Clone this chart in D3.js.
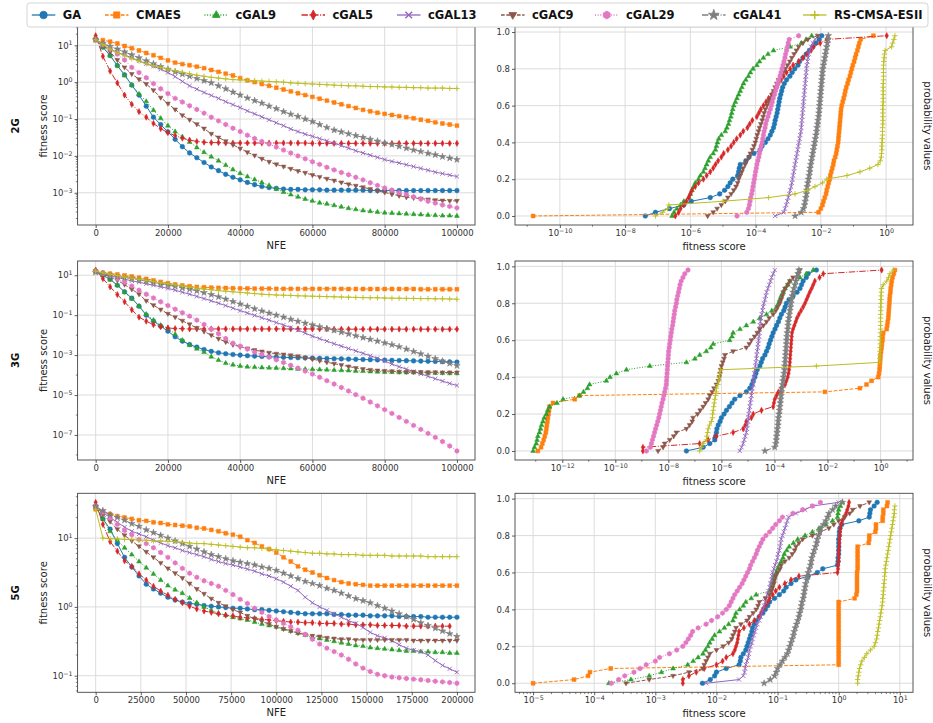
<!DOCTYPE html>
<html>
<head>
<meta charset="utf-8">
<script src="https://cdn.jsdelivr.net/npm/d3@7"></script>
<style>
  body { margin: 0; background: #fff; }
  text { font-family: "DejaVu Sans", sans-serif; }
</style>
</head>
<body>
<svg id="fig" width="933" height="723"></svg>
<script>
// ---------- data ----------
var algorithms = ["GA", "CMAES", "cGAL9", "cGAL5", "cGAL13", "cGAC9", "cGAL29", "cGAL41", "RS-CMSA-ESII"];
var problems = ["2G", "3G", "5G"];
var nfeStep = [2000, 2000, 4000];
var nfeMax = [100000, 100000, 200000];
var nfeTicks = [
  [0, 20000, 40000, 60000, 80000, 100000],
  [0, 20000, 40000, 60000, 80000, 100000],
  [0, 25000, 50000, 75000, 100000, 125000, 150000, 175000, 200000]
];
var convYTicks = [[-3, -2, -1, 0, 1], [-7, -5, -3, -1, 1], [-1, 0, 1]];   // exponents
var cdfXTicks = [[-10, -8, -6, -4, -2, 0], [-12, -10, -8, -6, -4, -2, 0], [-5, -4, -3, -2, -1, 0, 1]];
var probTicks = [0, 0.2, 0.4, 0.6, 0.8, 1.0];

// convergence curves: log10(fitness score) every nfeStep evaluations
var conv2G_GA = [1.15,0.95,0.72,0.45,0.2,-0.08,-0.35,-0.65,-0.95,-1.15,-1.35,-1.55,-1.75,-1.92,-2.05,-2.18,-2.3,-2.4,-2.5,-2.58,-2.65,-2.72,-2.78,-2.83,-2.86,-2.88,-2.9,-2.91,-2.91,-2.92,-2.92,-2.92,-2.93,-2.93,-2.93,-2.93,-2.93,-2.93,-2.94,-2.94,-2.94,-2.94,-2.94,-2.94,-2.94,-2.94,-2.94,-2.94,-2.94,-2.94,-2.94];
var conv2G_CMAES = [1.17,1.14,1.1,1.05,0.98,0.92,0.86,0.79,0.73,0.66,0.59,0.53,0.49,0.46,0.42,0.38,0.33,0.28,0.23,0.18,0.11,0.05,0.0,-0.05,-0.1,-0.15,-0.2,-0.25,-0.3,-0.35,-0.4,-0.45,-0.5,-0.55,-0.6,-0.65,-0.7,-0.75,-0.79,-0.83,-0.86,-0.89,-0.92,-0.95,-0.98,-1.02,-1.05,-1.09,-1.12,-1.15,-1.18];
var conv2G_cGAL9 = [1.2,0.95,0.72,0.45,0.18,-0.08,-0.32,-0.52,-0.76,-0.98,-1.18,-1.34,-1.48,-1.62,-1.77,-1.9,-2.02,-2.13,-2.25,-2.37,-2.47,-2.56,-2.64,-2.72,-2.8,-2.9,-2.98,-3.05,-3.11,-3.17,-3.22,-3.27,-3.3,-3.34,-3.38,-3.42,-3.45,-3.48,-3.5,-3.52,-3.54,-3.55,-3.56,-3.57,-3.58,-3.59,-3.6,-3.61,-3.62,-3.62,-3.63];
var conv2G_cGAL5 = [1.26,0.7,0.3,-0.02,-0.35,-0.6,-0.8,-0.95,-1.12,-1.26,-1.37,-1.45,-1.52,-1.57,-1.61,-1.63,-1.64,-1.64,-1.65,-1.65,-1.65,-1.65,-1.65,-1.65,-1.65,-1.65,-1.65,-1.65,-1.65,-1.65,-1.66,-1.66,-1.66,-1.66,-1.66,-1.66,-1.66,-1.66,-1.66,-1.66,-1.66,-1.66,-1.66,-1.66,-1.66,-1.66,-1.66,-1.66,-1.66,-1.66,-1.66];
var conv2G_cGAL13 = [1.15,1.0,0.9,0.81,0.74,0.66,0.58,0.5,0.43,0.35,0.26,0.15,0.02,-0.1,-0.19,-0.28,-0.36,-0.44,-0.53,-0.61,-0.69,-0.78,-0.86,-0.94,-1.02,-1.1,-1.18,-1.27,-1.34,-1.41,-1.47,-1.53,-1.59,-1.66,-1.72,-1.79,-1.86,-1.92,-1.98,-2.04,-2.1,-2.15,-2.19,-2.24,-2.29,-2.34,-2.39,-2.44,-2.48,-2.52,-2.56];
var conv2G_cGAC9 = [1.15,1.0,0.82,0.6,0.4,0.22,0.08,-0.05,-0.22,-0.42,-0.58,-0.74,-0.9,-1.02,-1.14,-1.26,-1.4,-1.5,-1.6,-1.7,-1.8,-1.9,-1.99,-2.08,-2.16,-2.23,-2.29,-2.35,-2.41,-2.46,-2.52,-2.57,-2.62,-2.67,-2.72,-2.77,-2.81,-2.85,-2.9,-2.95,-2.99,-3.04,-3.08,-3.12,-3.14,-3.16,-3.18,-3.2,-3.21,-3.22,-3.22];
var conv2G_cGAL29 = [1.15,1.02,0.9,0.76,0.6,0.4,0.26,0.12,-0.04,-0.18,-0.31,-0.44,-0.54,-0.64,-0.74,-0.84,-0.95,-1.05,-1.15,-1.25,-1.34,-1.44,-1.53,-1.61,-1.68,-1.76,-1.84,-1.92,-2.0,-2.08,-2.16,-2.23,-2.31,-2.38,-2.45,-2.51,-2.58,-2.65,-2.73,-2.8,-2.87,-2.93,-3.0,-3.05,-3.11,-3.17,-3.23,-3.28,-3.33,-3.37,-3.41];
var conv2G_cGAL41 = [1.15,1.05,0.97,0.9,0.82,0.74,0.66,0.58,0.5,0.42,0.35,0.28,0.22,0.16,0.1,0.04,-0.02,-0.1,-0.18,-0.27,-0.35,-0.43,-0.5,-0.57,-0.65,-0.72,-0.8,-0.87,-0.93,-1.0,-1.07,-1.15,-1.23,-1.3,-1.35,-1.4,-1.45,-1.5,-1.55,-1.6,-1.65,-1.69,-1.74,-1.79,-1.84,-1.88,-1.93,-1.97,-2.02,-2.06,-2.1];
var conv2G_RS = [1.15,1.02,0.9,0.8,0.72,0.64,0.57,0.5,0.45,0.4,0.35,0.31,0.27,0.23,0.19,0.16,0.13,0.11,0.09,0.07,0.06,0.05,0.04,0.03,0.02,0.01,0.0,-0.02,-0.03,-0.04,-0.05,-0.06,-0.07,-0.08,-0.09,-0.1,-0.1,-0.11,-0.12,-0.12,-0.13,-0.13,-0.14,-0.14,-0.15,-0.15,-0.16,-0.16,-0.16,-0.17,-0.17];

var conv3G_GA = [1.2,1.0,0.8,0.5,0.17,-0.15,-0.55,-1.0,-1.3,-1.55,-1.8,-2.08,-2.3,-2.47,-2.6,-2.72,-2.81,-2.88,-2.93,-2.97,-3.0,-3.03,-3.05,-3.07,-3.08,-3.1,-3.11,-3.12,-3.13,-3.14,-3.15,-3.16,-3.17,-3.18,-3.19,-3.2,-3.21,-3.22,-3.23,-3.24,-3.25,-3.26,-3.27,-3.28,-3.29,-3.3,-3.31,-3.32,-3.33,-3.34,-3.35];
var conv3G_CMAES = [1.18,1.13,1.08,1.04,0.99,0.94,0.88,0.82,0.74,0.67,0.6,0.54,0.49,0.45,0.42,0.4,0.38,0.37,0.36,0.35,0.34,0.34,0.33,0.33,0.33,0.32,0.32,0.32,0.32,0.32,0.32,0.32,0.32,0.32,0.32,0.31,0.31,0.31,0.31,0.31,0.31,0.31,0.31,0.31,0.31,0.3,0.3,0.3,0.3,0.3,0.3];
var conv3G_cGAL9 = [1.2,1.0,0.78,0.5,0.15,-0.18,-0.55,-0.95,-1.25,-1.5,-1.65,-1.95,-2.25,-2.5,-2.68,-2.85,-3.08,-3.25,-3.4,-3.48,-3.54,-3.58,-3.6,-3.62,-3.63,-3.64,-3.66,-3.67,-3.69,-3.7,-3.71,-3.72,-3.73,-3.75,-3.76,-3.77,-3.79,-3.8,-3.82,-3.83,-3.84,-3.85,-3.86,-3.87,-3.87,-3.88,-3.89,-3.9,-3.9,-3.91,-3.91];
var conv3G_cGAL5 = [1.26,0.83,0.42,0.03,-0.33,-0.73,-1.1,-1.3,-1.48,-1.58,-1.64,-1.67,-1.68,-1.69,-1.69,-1.69,-1.69,-1.69,-1.69,-1.69,-1.69,-1.69,-1.69,-1.69,-1.69,-1.69,-1.69,-1.69,-1.69,-1.69,-1.69,-1.69,-1.69,-1.7,-1.7,-1.7,-1.7,-1.7,-1.7,-1.7,-1.7,-1.7,-1.7,-1.7,-1.7,-1.7,-1.7,-1.7,-1.7,-1.7,-1.7];
var conv3G_cGAL13 = [1.15,1.05,0.97,0.89,0.8,0.72,0.65,0.57,0.5,0.42,0.34,0.25,0.15,0.05,-0.06,-0.17,-0.28,-0.4,-0.52,-0.65,-0.77,-0.89,-1.01,-1.13,-1.25,-1.37,-1.49,-1.62,-1.75,-1.9,-2.05,-2.18,-2.3,-2.43,-2.55,-2.67,-2.79,-2.91,-3.03,-3.16,-3.3,-3.45,-3.58,-3.7,-3.82,-3.94,-4.06,-4.18,-4.3,-4.42,-4.52];
var conv3G_cGAC9 = [1.2,1.05,0.92,0.75,0.53,0.3,0.05,-0.28,-0.5,-0.72,-0.93,-1.1,-1.28,-1.46,-1.64,-1.82,-2.0,-2.18,-2.34,-2.48,-2.58,-2.67,-2.75,-2.82,-2.88,-2.93,-2.97,-3.01,-3.06,-3.13,-3.2,-3.28,-3.36,-3.43,-3.5,-3.57,-3.64,-3.7,-3.74,-3.77,-3.79,-3.81,-3.83,-3.84,-3.85,-3.85,-3.86,-3.86,-3.87,-3.87,-3.87];
var conv3G_cGAL29 = [1.2,1.1,0.98,0.82,0.65,0.46,0.25,0.05,-0.14,-0.33,-0.52,-0.7,-0.88,-1.05,-1.25,-1.47,-1.7,-1.93,-2.17,-2.4,-2.55,-2.7,-2.85,-2.97,-3.1,-3.23,-3.37,-3.51,-3.65,-3.8,-3.95,-4.11,-4.28,-4.45,-4.62,-4.8,-4.98,-5.16,-5.35,-5.54,-5.73,-5.92,-6.12,-6.32,-6.52,-6.72,-6.92,-7.12,-7.33,-7.55,-7.8];
var conv3G_cGAL41 = [1.15,1.08,1.0,0.94,0.88,0.83,0.77,0.71,0.63,0.55,0.5,0.44,0.37,0.3,0.22,0.13,0.03,-0.08,-0.2,-0.32,-0.44,-0.56,-0.68,-0.79,-0.9,-1.0,-1.1,-1.21,-1.31,-1.4,-1.49,-1.58,-1.67,-1.76,-1.85,-1.94,-2.03,-2.12,-2.21,-2.3,-2.39,-2.48,-2.58,-2.7,-2.82,-2.94,-3.06,-3.18,-3.3,-3.42,-3.53];
var conv3G_RS = [1.2,1.12,1.05,0.98,0.91,0.85,0.8,0.74,0.68,0.62,0.57,0.52,0.46,0.4,0.35,0.31,0.27,0.23,0.2,0.17,0.14,0.11,0.08,0.05,0.03,0.01,0.0,-0.01,-0.03,-0.04,-0.05,-0.06,-0.07,-0.08,-0.09,-0.1,-0.11,-0.12,-0.13,-0.13,-0.14,-0.15,-0.15,-0.16,-0.16,-0.17,-0.17,-0.18,-0.18,-0.19,-0.2];

var conv5G_GA = [1.46,1.28,1.13,0.92,0.72,0.58,0.45,0.33,0.26,0.2,0.14,0.1,0.07,0.05,0.04,0.02,0.01,0.0,-0.01,-0.02,-0.02,-0.03,-0.04,-0.04,-0.05,-0.06,-0.07,-0.08,-0.09,-0.1,-0.1,-0.1,-0.1,-0.11,-0.11,-0.12,-0.12,-0.12,-0.13,-0.13,-0.13,-0.13,-0.14,-0.14,-0.14,-0.14,-0.15,-0.15,-0.15,-0.15,-0.15];
var conv5G_CMAES = [1.42,1.38,1.35,1.32,1.3,1.28,1.26,1.25,1.23,1.22,1.2,1.19,1.18,1.17,1.15,1.14,1.12,1.1,1.07,1.05,1.02,0.97,0.93,0.88,0.84,0.79,0.72,0.66,0.59,0.54,0.5,0.46,0.42,0.39,0.36,0.34,0.33,0.32,0.31,0.31,0.31,0.31,0.31,0.31,0.31,0.31,0.31,0.31,0.31,0.31,0.31];
var conv5G_cGAL9 = [1.46,1.28,1.1,0.97,0.86,0.76,0.66,0.57,0.48,0.39,0.31,0.25,0.2,0.13,0.06,0.0,-0.05,-0.09,-0.12,-0.15,-0.17,-0.19,-0.22,-0.25,-0.27,-0.29,-0.32,-0.35,-0.38,-0.41,-0.44,-0.46,-0.48,-0.5,-0.52,-0.54,-0.56,-0.57,-0.59,-0.6,-0.61,-0.62,-0.63,-0.64,-0.64,-0.65,-0.65,-0.66,-0.66,-0.67,-0.67];
var conv5G_cGAL5 = [1.52,1.2,0.95,0.81,0.67,0.59,0.48,0.39,0.3,0.23,0.17,0.11,0.06,0.01,-0.03,-0.06,-0.08,-0.1,-0.12,-0.13,-0.15,-0.16,-0.17,-0.18,-0.19,-0.2,-0.21,-0.22,-0.22,-0.23,-0.23,-0.24,-0.24,-0.24,-0.25,-0.25,-0.26,-0.26,-0.26,-0.27,-0.27,-0.27,-0.27,-0.28,-0.28,-0.28,-0.28,-0.28,-0.28,-0.28];
var conv5G_cGAL13 = [1.46,1.37,1.3,1.23,1.16,1.1,1.06,1.02,0.97,0.93,0.89,0.86,0.82,0.79,0.76,0.73,0.69,0.66,0.63,0.61,0.58,0.55,0.52,0.48,0.45,0.41,0.36,0.3,0.24,0.14,0.06,0.0,-0.05,-0.1,-0.15,-0.2,-0.24,-0.3,-0.37,-0.42,-0.45,-0.49,-0.55,-0.6,-0.63,-0.65,-0.7,-0.78,-0.85,-0.9,-0.95];
var conv5G_cGAC9 = [1.46,1.35,1.24,1.13,1.04,0.96,0.88,0.8,0.72,0.64,0.56,0.49,0.42,0.34,0.26,0.19,0.12,0.06,0.01,-0.04,-0.08,-0.13,-0.17,-0.21,-0.25,-0.29,-0.32,-0.35,-0.38,-0.4,-0.42,-0.43,-0.45,-0.46,-0.47,-0.47,-0.48,-0.48,-0.48,-0.48,-0.48,-0.48,-0.48,-0.48,-0.49,-0.49,-0.49,-0.49,-0.49,-0.49,-0.49];
var conv5G_cGAL29 = [1.46,1.38,1.29,1.2,1.11,1.05,0.98,0.92,0.86,0.79,0.72,0.64,0.56,0.49,0.43,0.38,0.34,0.3,0.24,0.18,0.11,0.05,-0.02,-0.08,-0.14,-0.19,-0.24,-0.29,-0.34,-0.4,-0.47,-0.54,-0.6,-0.65,-0.7,-0.76,-0.83,-0.89,-0.94,-0.98,-1.0,-1.02,-1.03,-1.04,-1.05,-1.06,-1.07,-1.08,-1.09,-1.1,-1.11];
var conv5G_cGAL41 = [1.46,1.4,1.34,1.3,1.26,1.21,1.17,1.12,1.08,1.04,1.0,0.96,0.92,0.88,0.84,0.8,0.76,0.73,0.7,0.67,0.65,0.63,0.61,0.58,0.56,0.53,0.49,0.45,0.41,0.37,0.34,0.31,0.27,0.24,0.2,0.16,0.12,0.09,0.06,0.02,-0.02,-0.06,-0.1,-0.14,-0.18,-0.23,-0.27,-0.31,-0.35,-0.39,-0.43];
var conv5G_RS = [1.42,1.0,0.99,0.99,0.98,0.98,0.97,0.97,0.96,0.96,0.95,0.95,0.94,0.93,0.92,0.92,0.91,0.9,0.89,0.88,0.87,0.86,0.86,0.85,0.84,0.83,0.82,0.81,0.8,0.79,0.78,0.78,0.77,0.77,0.76,0.76,0.76,0.75,0.75,0.75,0.75,0.74,0.74,0.74,0.74,0.74,0.73,0.73,0.73,0.73,0.73];

// empirical distributions: sorted log10(fitness score), probability i/50
var cdf2G_GA = [-7.38,-7.07,-6.64,-6.2,-5.97,-5.39,-5.1,-4.95,-4.85,-4.78,-4.7,-4.55,-4.52,-4.5,-4.47,-4.3,-4.2,-4.05,-3.86,-3.8,-3.7,-3.62,-3.55,-3.5,-3.45,-3.42,-3.4,-3.37,-3.34,-3.32,-3.3,-3.28,-3.26,-3.23,-3.2,-3.17,-3.12,-3.05,-2.95,-2.88,-2.8,-2.7,-2.65,-2.55,-2.45,-2.35,-2.25,-2.15,-2.05,-1.97];
var cdf2G_CMAES = [-10.82,-2.07,-2.0,-1.95,-1.92,-1.88,-1.84,-1.82,-1.79,-1.76,-1.73,-1.71,-1.68,-1.65,-1.62,-1.6,-1.56,-1.53,-1.51,-1.49,-1.47,-1.46,-1.45,-1.44,-1.43,-1.42,-1.41,-1.4,-1.39,-1.38,-1.36,-1.33,-1.3,-1.27,-1.25,-1.22,-1.18,-1.15,-1.11,-1.08,-1.05,-1.02,-0.98,-0.95,-0.92,-0.88,-0.85,-0.82,-0.78,-0.39];
var cdf2G_cGAL9 = [-6.56,-6.5,-6.41,-6.3,-6.2,-6.05,-6.0,-5.95,-5.9,-5.85,-5.75,-5.69,-5.6,-5.55,-5.5,-5.45,-5.39,-5.3,-5.23,-5.2,-5.17,-5.13,-5.05,-4.93,-4.88,-4.83,-4.8,-4.76,-4.73,-4.7,-4.67,-4.62,-4.57,-4.52,-4.47,-4.42,-4.37,-4.3,-4.22,-4.16,-4.08,-3.96,-3.88,-3.76,-3.62,-3.45,-2.94,-2.6,-2.45,-2.28];
var cdf2G_cGAL5 = [-6.46,-6.36,-6.3,-6.2,-6.12,-6.05,-6.0,-5.95,-5.85,-5.75,-5.6,-5.5,-5.39,-5.3,-5.23,-5.15,-5.05,-4.98,-4.85,-4.75,-4.67,-4.58,-4.47,-4.38,-4.25,-4.18,-4.1,-3.96,-3.9,-3.84,-3.76,-3.68,-3.6,-3.5,-3.42,-3.35,-3.3,-3.22,-3.14,-3.05,-2.94,-2.85,-2.68,-2.55,-2.43,-2.3,-2.22,-2.02,-1.82,0.02];
var cdf2G_cGAL13 = [-3.4,-3.14,-3.1,-3.06,-3.03,-3.0,-2.97,-2.94,-2.91,-2.89,-2.87,-2.85,-2.83,-2.81,-2.79,-2.77,-2.75,-2.73,-2.71,-2.69,-2.67,-2.65,-2.63,-2.61,-2.6,-2.59,-2.58,-2.57,-2.56,-2.55,-2.54,-2.53,-2.52,-2.51,-2.5,-2.49,-2.48,-2.47,-2.46,-2.45,-2.44,-2.43,-2.41,-2.39,-2.37,-2.34,-2.3,-2.25,-2.18,-2.07];
var cdf2G_cGAC9 = [-5.47,-5.3,-5.18,-5.05,-4.93,-4.85,-4.75,-4.67,-4.6,-4.55,-4.52,-4.47,-4.42,-4.38,-4.32,-4.27,-4.2,-4.16,-4.1,-4.05,-4.01,-3.98,-3.95,-3.91,-3.88,-3.84,-3.8,-3.77,-3.74,-3.7,-3.65,-3.6,-3.55,-3.5,-3.45,-3.4,-3.35,-3.3,-3.22,-3.15,-3.09,-3.02,-2.95,-2.89,-2.82,-2.75,-2.68,-2.55,-2.4,-2.1];
var cdf2G_cGAL29 = [-4.57,-4.27,-4.22,-4.19,-4.17,-4.15,-4.12,-4.1,-4.08,-4.06,-4.04,-4.02,-4.0,-3.98,-3.96,-3.93,-3.9,-3.88,-3.86,-3.83,-3.8,-3.78,-3.76,-3.74,-3.71,-3.69,-3.66,-3.62,-3.59,-3.55,-3.52,-3.49,-3.46,-3.42,-3.39,-3.35,-3.32,-3.29,-3.25,-3.22,-3.19,-3.16,-3.13,-3.1,-3.08,-3.05,-3.02,-3.0,-2.97,-2.68];
var cdf2G_cGAL41 = [-2.79,-2.6,-2.53,-2.5,-2.48,-2.46,-2.44,-2.43,-2.42,-2.4,-2.38,-2.36,-2.34,-2.33,-2.31,-2.29,-2.27,-2.25,-2.23,-2.21,-2.19,-2.17,-2.15,-2.13,-2.12,-2.1,-2.09,-2.07,-2.06,-2.05,-2.04,-2.03,-2.02,-2.01,-2.0,-1.99,-1.98,-1.97,-1.96,-1.95,-1.94,-1.92,-1.9,-1.88,-1.86,-1.84,-1.82,-1.8,-1.78,-1.77];
var cdf2G_RS = [-7.07,-6.85,-6.7,-6.66,-5.0,-3.6,-2.79,-2.4,-2.18,-1.95,-1.82,-1.2,-0.8,-0.5,-0.25,-0.18,-0.15,-0.14,-0.13,-0.13,-0.12,-0.12,-0.11,-0.11,-0.11,-0.1,-0.1,-0.1,-0.1,-0.1,-0.1,-0.09,-0.09,-0.09,-0.09,-0.09,-0.09,-0.08,-0.08,-0.08,-0.08,-0.08,-0.07,-0.06,-0.05,-0.03,0.17,0.2,0.24,0.27];

var cdf3G_GA = [-7.32,-6.69,-6.44,-6.25,-6.22,-6.19,-6.17,-6.12,-6.05,-6.0,-5.9,-5.81,-5.7,-5.6,-5.5,-5.3,-5.06,-4.93,-4.85,-4.8,-4.74,-4.7,-4.65,-4.55,-4.5,-4.45,-4.36,-4.3,-4.24,-4.2,-4.15,-4.1,-4.05,-3.98,-3.92,-3.85,-3.8,-3.74,-3.65,-3.6,-3.55,-3.45,-3.3,-3.15,-3.04,-2.98,-2.92,-2.8,-2.73,-2.42];
var cdf3G_CMAES = [-12.92,-12.8,-12.75,-12.7,-12.66,-12.62,-12.6,-12.58,-12.56,-12.54,-12.52,-12.5,-12.48,-12.35,-11.53,-11.35,-2.1,-0.78,-0.53,-0.34,-0.09,-0.06,-0.04,-0.03,-0.02,-0.01,0.0,0.02,0.04,0.05,0.07,0.08,0.1,0.23,0.25,0.27,0.29,0.3,0.31,0.32,0.33,0.34,0.35,0.37,0.38,0.4,0.42,0.45,0.5,0.54];
var cdf3G_cGAL9 = [-13.1,-13.05,-12.98,-12.95,-12.92,-12.86,-12.82,-12.78,-12.73,-12.68,-12.6,-12.55,-12.48,-12.2,-11.97,-11.35,-11.2,-11.05,-10.97,-10.34,-10.2,-9.96,-9.58,-8.7,-7.32,-7.0,-6.82,-6.57,-6.4,-6.31,-5.69,-5.6,-5.56,-5.3,-5.06,-4.8,-4.55,-4.3,-4.1,-3.92,-3.85,-3.8,-3.75,-3.67,-3.6,-3.5,-3.42,-3.04,-2.8,-2.54];
var cdf3G_cGAL5 = [-8.96,-8.96,-6.82,-6.5,-6.19,-5.56,-5.18,-5.1,-5.06,-4.87,-4.8,-4.49,-4.05,-4.02,-3.99,-3.92,-3.85,-3.74,-3.6,-3.55,-3.5,-3.47,-3.45,-3.43,-3.42,-3.41,-3.4,-3.39,-3.38,-3.37,-3.36,-3.35,-3.34,-3.3,-3.25,-3.2,-3.15,-3.08,-3.0,-2.92,-2.85,-2.79,-2.73,-2.67,-2.6,-2.54,-2.48,-2.3,-2.16,0.04];
var cdf3G_cGAL13 = [-5.31,-5.24,-5.18,-5.14,-5.1,-5.06,-5.04,-5.02,-5.0,-4.99,-4.97,-4.95,-4.93,-4.91,-4.89,-4.87,-4.85,-4.83,-4.8,-4.79,-4.77,-4.76,-4.74,-4.72,-4.7,-4.68,-4.67,-4.65,-4.63,-4.62,-4.6,-4.58,-4.57,-4.56,-4.55,-4.53,-4.51,-4.48,-4.45,-4.43,-4.4,-4.36,-4.33,-4.3,-4.25,-4.2,-4.15,-4.11,-4.05,-3.99];
var cdf3G_cGAC9 = [-8.39,-8.2,-8.14,-7.95,-7.8,-7.7,-7.32,-7.2,-7.1,-7.07,-6.9,-6.8,-6.69,-6.6,-6.5,-6.44,-6.35,-6.28,-6.19,-6.12,-6.08,-6.05,-6.03,-6.0,-5.95,-5.9,-5.87,-5.56,-5.06,-4.95,-4.87,-4.75,-4.65,-4.55,-4.42,-4.3,-4.2,-4.05,-3.95,-3.88,-3.8,-3.75,-3.7,-3.67,-3.6,-3.5,-3.42,-3.3,-3.11,-3.04];
var cdf3G_cGAL29 = [-8.83,-8.68,-8.64,-8.6,-8.56,-8.52,-8.48,-8.44,-8.4,-8.36,-8.33,-8.3,-8.27,-8.24,-8.2,-8.17,-8.14,-8.11,-8.08,-8.07,-8.06,-8.05,-8.04,-8.03,-8.02,-8.01,-8.0,-7.99,-7.97,-7.95,-7.93,-7.91,-7.89,-7.87,-7.84,-7.82,-7.8,-7.78,-7.76,-7.73,-7.7,-7.68,-7.65,-7.62,-7.59,-7.56,-7.52,-7.45,-7.38,-7.26];
var cdf3G_cGAL41 = [-4.36,-3.99,-3.95,-3.93,-3.92,-3.9,-3.89,-3.87,-3.86,-3.85,-3.83,-3.81,-3.8,-3.78,-3.77,-3.75,-3.74,-3.72,-3.7,-3.68,-3.66,-3.64,-3.62,-3.61,-3.6,-3.59,-3.58,-3.57,-3.56,-3.55,-3.54,-3.53,-3.52,-3.5,-3.49,-3.48,-3.46,-3.44,-3.42,-3.4,-3.38,-3.36,-3.33,-3.3,-3.27,-3.23,-3.19,-3.15,-3.11,-3.08];
var cdf3G_RS = [-6.82,-6.75,-6.69,-6.57,-6.55,-6.52,-6.5,-6.45,-6.38,-6.34,-6.33,-6.31,-6.29,-6.27,-6.25,-6.22,-6.2,-6.19,-6.13,-6.1,-6.08,-6.06,-6.03,-2.42,-0.03,-0.03,-0.02,-0.02,-0.02,-0.01,-0.01,-0.01,-0.01,0.0,0.0,0.0,0.0,0.0,0.01,0.01,0.01,0.02,0.02,0.03,0.04,0.1,0.23,0.3,0.35,0.48];

var cdf5G_GA = [-2.23,-2.1,-2.03,-2.0,-1.84,-1.63,-1.61,-1.6,-1.56,-1.52,-1.5,-1.48,-1.46,-1.44,-1.42,-1.41,-1.38,-1.35,-1.3,-1.24,-1.2,-1.16,-1.13,-1.05,-0.97,-0.9,-0.86,-0.78,-0.7,-0.5,-0.35,-0.26,-0.02,-0.01,-0.01,0.0,0.0,0.0,0.0,0.0,0.01,0.01,0.02,0.05,0.33,0.5,0.51,0.52,0.58,0.63];
var cdf5G_CMAES = [-5.0,-4.33,-4.1,-4.07,-3.73,0,0,0,0,0,0,0,0,0,0,0,0,0,0,0,0,0,0,0.26,0.29,0.3,0.3,0.3,0.3,0.3,0.3,0.31,0.31,0.31,0.31,0.31,0.31,0.31,0.49,0.5,0.5,0.6,0.61,0.61,0.72,0.72,0.73,0.73,0.79,0.8];
var cdf5G_cGAL9 = [-3.76,-3.4,-3.1,-2.9,-2.71,-2.47,-2.38,-2.3,-2.22,-2.18,-2.14,-2.11,-2.07,-2.03,-1.95,-1.87,-1.8,-1.73,-1.7,-1.68,-1.62,-1.56,-1.52,-1.43,-1.35,-1.13,-1.1,-1.08,-1.06,-1.05,-1.02,-1.0,-0.97,-0.94,-0.91,-0.89,-0.85,-0.81,-0.74,-0.67,-0.55,-0.43,-0.32,-0.21,-0.1,-0.02,-0.01,0.0,0.03,0.06];
var cdf5G_cGAL5 = [-2.55,-2.55,-2.45,-2.33,-2.2,-2.0,-1.9,-1.84,-1.73,-1.7,-1.68,-1.66,-1.65,-1.64,-1.63,-1.55,-1.46,-1.38,-1.3,-1.27,-1.24,-1.2,-1.16,-1.13,-1.08,-1.03,-0.97,-0.88,-0.78,-0.65,-0.02,-0.01,-0.01,0.0,0.0,0.0,0.0,0.01,0.01,0.01,0.02,0.02,0.03,0.04,0.06,0.09,0.12,0.14,0.16,0.17];
var cdf5G_cGAL13 = [-2.17,-1.63,-1.56,-1.54,-1.53,-1.52,-1.5,-1.48,-1.47,-1.46,-1.44,-1.42,-1.41,-1.39,-1.37,-1.35,-1.33,-1.3,-1.28,-1.26,-1.24,-1.22,-1.2,-1.19,-1.17,-1.15,-1.13,-1.12,-1.1,-1.09,-1.08,-1.06,-1.04,-1.02,-1.0,-0.99,-0.97,-0.96,-0.95,-0.94,-0.92,-0.9,-0.88,-0.86,-0.84,-0.82,-0.7,-0.55,-0.43,0.0];
var cdf5G_cGAC9 = [-3.48,-3.1,-2.71,-2.45,-2.22,-2.2,-2.17,-2.14,-2.11,-2.0,-1.89,-1.8,-1.75,-1.73,-1.7,-1.68,-1.6,-1.5,-1.46,-1.4,-1.35,-1.32,-1.3,-1.2,-1.13,-1.1,-1.08,-1.06,-1.05,-1.03,-1.0,-0.96,-0.94,-0.88,-0.81,-0.76,-0.72,-0.7,-0.65,-0.59,-0.43,-0.3,-0.16,-0.08,0.0,0.1,0.18,0.23,0.35,0.5];
var cdf5G_cGAL29 = [-3.72,-3.6,-3.5,-3.35,-3.25,-3.15,-3.0,-2.93,-2.77,-2.65,-2.55,-2.5,-2.46,-2.42,-2.39,-2.3,-2.17,-2.08,-1.98,-1.9,-1.84,-1.79,-1.76,-1.73,-1.7,-1.66,-1.62,-1.58,-1.55,-1.52,-1.49,-1.46,-1.44,-1.41,-1.38,-1.35,-1.33,-1.3,-1.27,-1.24,-1.19,-1.13,-1.08,-1.03,-0.97,-0.92,-0.75,-0.59,-0.43,-0.3];
var cdf5G_cGAL41 = [-1.22,-1.12,-1.05,-1.02,-1.0,-0.96,-0.92,-0.88,-0.84,-0.82,-0.8,-0.78,-0.76,-0.74,-0.73,-0.71,-0.69,-0.67,-0.65,-0.64,-0.62,-0.61,-0.6,-0.58,-0.57,-0.56,-0.55,-0.54,-0.52,-0.51,-0.5,-0.48,-0.46,-0.45,-0.44,-0.42,-0.4,-0.38,-0.36,-0.35,-0.33,-0.31,-0.29,-0.25,-0.21,-0.18,-0.16,-0.1,-0.05,0.06];
var cdf5G_RS = [0.31,0.31,0.32,0.33,0.34,0.36,0.38,0.42,0.46,0.52,0.58,0.6,0.62,0.63,0.64,0.65,0.66,0.67,0.68,0.69,0.7,0.71,0.72,0.72,0.73,0.73,0.74,0.74,0.75,0.75,0.76,0.76,0.77,0.78,0.79,0.8,0.81,0.82,0.83,0.84,0.85,0.86,0.87,0.88,0.89,0.9,0.91,0.91,0.92];

var convData = {
  "2G": [conv2G_GA, conv2G_CMAES, conv2G_cGAL9, conv2G_cGAL5, conv2G_cGAL13, conv2G_cGAC9, conv2G_cGAL29, conv2G_cGAL41, conv2G_RS],
  "3G": [conv3G_GA, conv3G_CMAES, conv3G_cGAL9, conv3G_cGAL5, conv3G_cGAL13, conv3G_cGAC9, conv3G_cGAL29, conv3G_cGAL41, conv3G_RS],
  "5G": [conv5G_GA, conv5G_CMAES, conv5G_cGAL9, conv5G_cGAL5, conv5G_cGAL13, conv5G_cGAC9, conv5G_cGAL29, conv5G_cGAL41, conv5G_RS]
};
var cdfData = {
  "2G": [cdf2G_GA, cdf2G_CMAES, cdf2G_cGAL9, cdf2G_cGAL5, cdf2G_cGAL13, cdf2G_cGAC9, cdf2G_cGAL29, cdf2G_cGAL41, cdf2G_RS],
  "3G": [cdf3G_GA, cdf3G_CMAES, cdf3G_cGAL9, cdf3G_cGAL5, cdf3G_cGAL13, cdf3G_cGAC9, cdf3G_cGAL29, cdf3G_cGAL41, cdf3G_RS],
  "5G": [cdf5G_GA, cdf5G_CMAES, cdf5G_cGAL9, cdf5G_cGAL5, cdf5G_cGAL13, cdf5G_cGAC9, cdf5G_cGAL29, cdf5G_cGAL41, cdf5G_RS]
};

// ---------- styles / layout ----------
var colors = ["#1f77b4", "#ff7f0e", "#2ca02c", "#d62728", "#9467bd", "#8c564b", "#e377c2", "#7f7f7f", "#bcbd22"];
var markers = ["o", "s", "^", "d", "x", "v", "h", "*", "+"];
var dashes = [null, "3.7,1.6", "1,1.65", "6.4,1.6,1,1.6", null, "3.7,1.6", "1,1.65", "6.4,1.6,1,1.6", null];

var rowsY = [[26.7, 225], [261, 460], [493.3, 692.3]];
var leftX = [77.6, 475], rightX = [515, 913];
var gridColor = "#d8d8d8", inkColor = "#333";

var svg = d3.select("#fig");

function hexPath(r) {
  var p = d3.range(6).map(function(k) { var a = Math.PI / 3 * k - Math.PI / 2; return [r * Math.cos(a), r * Math.sin(a)]; });
  return "M" + p.map(function(q) { return q[0].toFixed(2) + "," + q[1].toFixed(2); }).join("L") + "Z";
}

function markerPath(m) {
  switch (m) {
    case "o": return d3.symbol(d3.symbolCircle, 17)();
    case "s": return d3.symbol(d3.symbolSquare, 15)();
    case "^": return "M0,-2.7L2.4,1.5L-2.4,1.5Z";
    case "v": return "M0,2.7L2.4,-1.5L-2.4,-1.5Z";
    case "d": return "M0,-3.1L1.7,0L0,3.1L-1.7,0Z";
    case "x": return "M-2.1,-2.1L2.1,2.1M-2.1,2.1L2.1,-2.1";
    case "h": return hexPath(2.45);
    case "*": return d3.symbol(d3.symbolStar, 14)();
    case "+": return "M-2.7,0H2.7M0,-2.7V2.7";
  }
}

function styleMarker(sel, k) {
  var open = markers[k] === "x" || markers[k] === "+";
  sel.attr("d", markerPath(markers[k]))
    .attr("fill", open ? "none" : colors[k])
    .attr("stroke", colors[k])
    .attr("stroke-width", open ? 0.9 : 0.5);
}

function padded(vals) {
  var e = d3.extent(vals), p = (e[1] - e[0]) * 0.05;
  return [e[0] - p, e[1] + p];
}

function powLabel(sel) {
  sel.each(function(d) {
    var t = d3.select(this), e = Math.round(Math.log10(d));
    t.text(null);
    t.append("tspan").text("10");
    t.append("tspan").attr("dy", "-0.5em").attr("font-size", "6.3px").text(e < 0 ? "\u2212" + (-e) : String(e));
  });
}

function styleAxis(g) {
  g.attr("font-size", 8.5).attr("font-family", "DejaVu Sans").attr("color", inkColor);
  g.select(".domain").remove();
  g.selectAll(".tick line").attr("stroke-width", 0.8);
}

function logMinor(lo, hi, subsEvery, majors) {
  var out = [];
  for (var e = Math.floor(lo); e <= Math.ceil(hi); e++) {
    if (subsEvery) {
      for (var s = 2; s <= 9; s++) out.push(s * Math.pow(10, e));
    } else if (majors.indexOf(e) < 0) {
      out.push(Math.pow(10, e));
    }
  }
  return out.filter(function(v) { var l = Math.log10(v); return l >= lo && l <= hi; });
}

function frame(g, xr, yr, id) {
  g.append("clipPath").attr("id", id).append("rect")
    .attr("x", xr[0]).attr("y", yr[0]).attr("width", xr[1] - xr[0]).attr("height", yr[1] - yr[0]);
}

function spines(g, xr, yr) {
  g.append("rect").attr("x", xr[0]).attr("y", yr[0]).attr("width", xr[1] - xr[0]).attr("height", yr[1] - yr[0])
    .attr("fill", "none").attr("stroke", "#444").attr("stroke-width", 0.9);
}

function drawSeries(cg, pts, k, x, y) {
  var line = d3.line().x(function(d) { return x(d[0]); }).y(function(d) { return y(d[1]); });
  cg.append("path").attr("d", line(pts)).attr("fill", "none")
    .attr("stroke", colors[k]).attr("stroke-width", 1).attr("stroke-dasharray", dashes[k]);
  cg.append("g").selectAll("path").data(pts).join("path")
    .attr("transform", function(d) { return "translate(" + x(d[0]) + "," + y(d[1]) + ")"; })
    .call(styleMarker, k);
}

// ---------- convergence panels (left) ----------
function drawConv(r) {
  var prob = problems[r], yr = [rowsY[r][0], rowsY[r][1]];
  var xmax = nfeMax[r];
  var x = d3.scaleLinear().domain([-0.05 * xmax, 1.05 * xmax]).range(leftX);
  var all = [].concat.apply([], convData[prob]);
  var lim = padded(all);
  var y = d3.scaleLog().domain([Math.pow(10, lim[0]), Math.pow(10, lim[1])]).range([yr[1], yr[0]]);
  var g = svg.append("g");
  var yMaj = convYTicks[r].map(function(e) { return Math.pow(10, e); });

  g.append("g").selectAll("line").data(nfeTicks[r]).join("line")
    .attr("x1", function(d) { return x(d); }).attr("x2", function(d) { return x(d); })
    .attr("y1", yr[0]).attr("y2", yr[1]).attr("stroke", gridColor).attr("stroke-width", 0.9);
  g.append("g").selectAll("line").data(yMaj).join("line")
    .attr("y1", function(d) { return y(d); }).attr("y2", function(d) { return y(d); })
    .attr("x1", leftX[0]).attr("x2", leftX[1]).attr("stroke", gridColor).attr("stroke-width", 0.9);

  var clipId = "clipL" + r;
  frame(g, leftX, yr, clipId);
  var cg = g.append("g").attr("clip-path", "url(#" + clipId + ")");
  convData[prob].forEach(function(vals, k) {
    var pts = vals.map(function(v, i) { return [i * nfeStep[r], Math.pow(10, v)]; });
    drawSeries(cg, pts, k, x, y);
  });
  spines(g, leftX, yr);

  g.append("g").attr("transform", "translate(0," + yr[1] + ")")
    .call(d3.axisBottom(x).tickValues(nfeTicks[r]).tickFormat(d3.format("d")).tickSize(3).tickPadding(2))
    .call(styleAxis);
  var ya = g.append("g").attr("transform", "translate(" + leftX[0] + ",0)")
    .call(d3.axisLeft(y).tickValues(yMaj).tickSize(3).tickPadding(2))
    .call(styleAxis);
  ya.selectAll(".tick text").call(powLabel);
  var minor = logMinor(lim[0], lim[1], r !== 1, convYTicks[r]);
  g.append("g").selectAll("line").data(minor).join("line")
    .attr("x1", leftX[0] - 1.8).attr("x2", leftX[0])
    .attr("y1", function(d) { return y(d); }).attr("y2", function(d) { return y(d); })
    .attr("stroke", inkColor).attr("stroke-width", 0.6);

  g.append("text").attr("x", (leftX[0] + leftX[1]) / 2).attr("y", yr[1] + 23.5)
    .attr("text-anchor", "middle").attr("font-size", 10).attr("fill", "#222").text("NFE");
  var cy = (yr[0] + yr[1]) / 2;
  g.append("text").attr("transform", "translate(46.5," + cy + ") rotate(-90)")
    .attr("text-anchor", "middle").attr("font-size", 10).attr("fill", "#222").text("fitness score");
  g.append("text").attr("transform", "translate(18.5," + cy + ") rotate(-90)")
    .attr("text-anchor", "middle").attr("font-size", 10).attr("font-weight", "bold").attr("fill", "#111").text(prob);
}

// ---------- empirical distribution panels (right) ----------
function drawCdf(r) {
  var prob = problems[r], yr = [rowsY[r][0], rowsY[r][1]];
  var all = [].concat.apply([], cdfData[prob]);
  var lim = padded(all);
  var x = d3.scaleLog().domain([Math.pow(10, lim[0]), Math.pow(10, lim[1])]).range(rightX);
  var y = d3.scaleLinear().domain([-0.049, 1.029]).range([yr[1], yr[0]]);
  var g = svg.append("g");
  var xMaj = cdfXTicks[r].map(function(e) { return Math.pow(10, e); });

  g.append("g").selectAll("line").data(xMaj).join("line")
    .attr("x1", function(d) { return x(d); }).attr("x2", function(d) { return x(d); })
    .attr("y1", yr[0]).attr("y2", yr[1]).attr("stroke", gridColor).attr("stroke-width", 0.9);
  g.append("g").selectAll("line").data(probTicks).join("line")
    .attr("y1", function(d) { return y(d); }).attr("y2", function(d) { return y(d); })
    .attr("x1", rightX[0]).attr("x2", rightX[1]).attr("stroke", gridColor).attr("stroke-width", 0.9);

  var clipId = "clipR" + r;
  frame(g, rightX, yr, clipId);
  var cg = g.append("g").attr("clip-path", "url(#" + clipId + ")");
  cdfData[prob].forEach(function(vals, k) {
    var pts = vals.map(function(v, i) { return [Math.pow(10, v), i / 50]; });
    drawSeries(cg, pts, k, x, y);
  });
  spines(g, rightX, yr);

  var xa = g.append("g").attr("transform", "translate(0," + yr[1] + ")")
    .call(d3.axisBottom(x).tickValues(xMaj).tickSize(3).tickPadding(2))
    .call(styleAxis);
  xa.selectAll(".tick text").call(powLabel);
  var minor = logMinor(lim[0], lim[1], r === 2, cdfXTicks[r]);
  g.append("g").selectAll("line").data(minor).join("line")
    .attr("y1", yr[1]).attr("y2", yr[1] + 1.8)
    .attr("x1", function(d) { return x(d); }).attr("x2", function(d) { return x(d); })
    .attr("stroke", inkColor).attr("stroke-width", 0.6);
  g.append("g").attr("transform", "translate(" + rightX[0] + ",0)")
    .call(d3.axisLeft(y).tickValues(probTicks).tickFormat(d3.format(".1f")).tickSize(3).tickPadding(2))
    .call(styleAxis);

  g.append("text").attr("x", (rightX[0] + rightX[1]) / 2).attr("y", yr[1] + 25)
    .attr("text-anchor", "middle").attr("font-size", 10).attr("fill", "#222").text("fitness score");
  var cy = (yr[0] + yr[1]) / 2;
  g.append("text").attr("transform", "translate(923.5," + cy + ") rotate(90)")
    .attr("text-anchor", "middle").attr("font-size", 10).attr("fill", "#222").text("probability values");
}

[0, 1, 2].forEach(function(r) { drawConv(r); drawCdf(r); });

// ---------- legend ----------
var legendTextX = [62.8, 136, 235.5, 332.5, 428, 532, 626, 733, 834];
var lg = svg.append("g");
lg.append("rect").attr("x", 27).attr("y", 3).attr("width", 901).attr("height", 24).attr("rx", 3)
  .attr("fill", "#fff").attr("stroke", "#d0d0d0").attr("stroke-width", 0.9);
algorithms.forEach(function(name, k) {
  var tx = legendTextX[k], x1 = tx - 31, x2 = tx - 7.5, cy = 15;
  lg.append("line").attr("x1", x1).attr("x2", x2).attr("y1", cy).attr("y2", cy)
    .attr("stroke", colors[k]).attr("stroke-width", 1.3).attr("stroke-dasharray", dashes[k]);
  lg.append("path").attr("transform", "translate(" + ((x1 + x2) / 2) + "," + cy + ") scale(1.6)")
    .call(styleMarker, k);
  lg.append("text").attr("x", tx).attr("y", cy + 4.2).attr("font-size", 11.5).attr("font-weight", "bold")
    .attr("fill", "#111").text(name);
});
</script>
</body>
</html>
